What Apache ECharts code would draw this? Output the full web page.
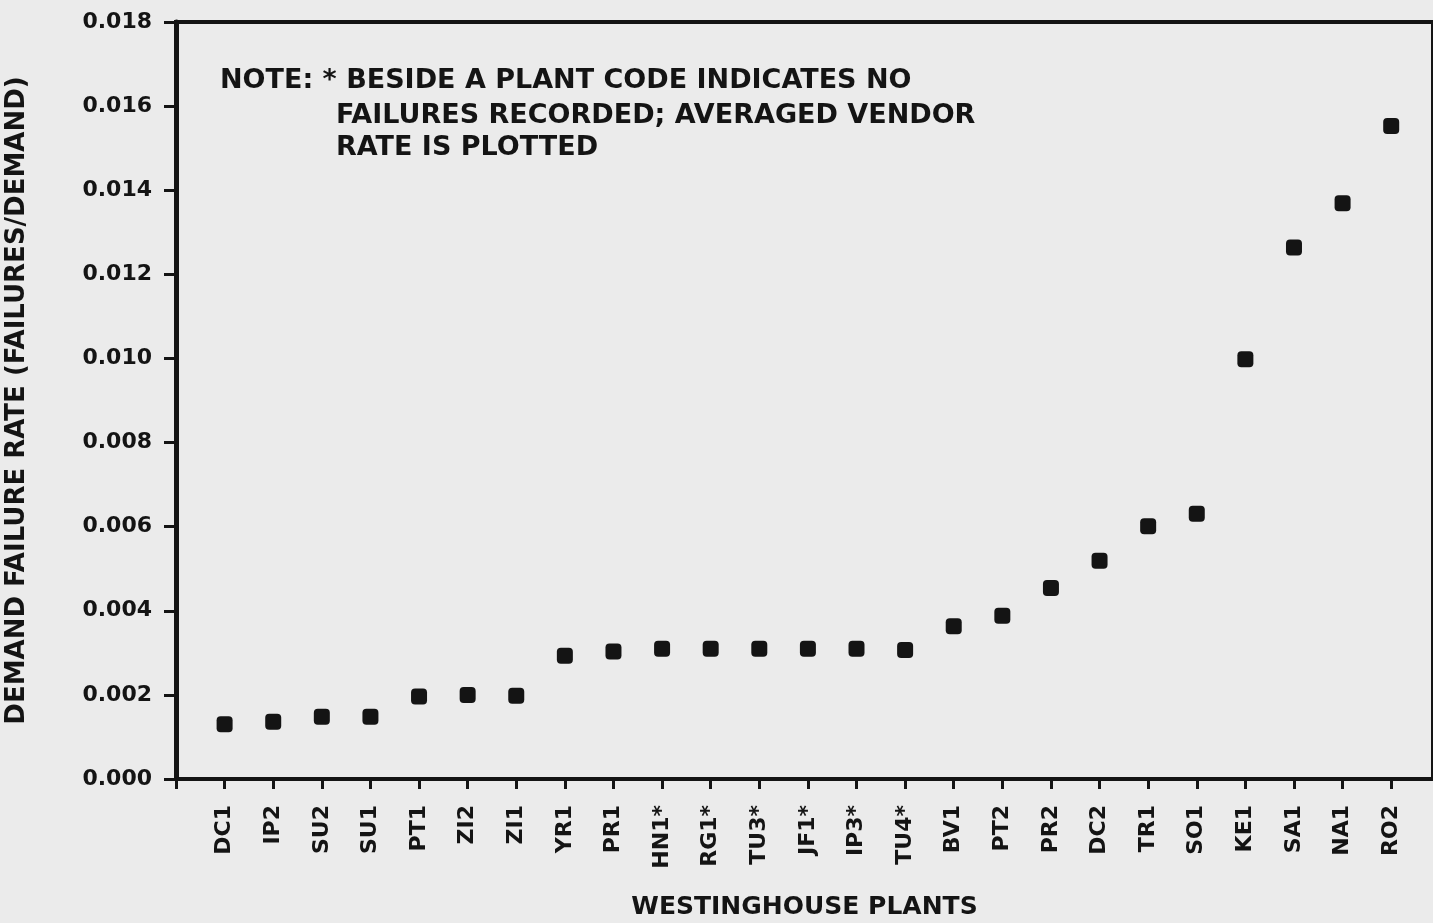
<!DOCTYPE html>
<html>
<head>
<meta charset="utf-8">
<title>Demand failure rate - Westinghouse plants</title>
<script src="https://cdn.jsdelivr.net/npm/echarts@6/dist/echarts.min.js"></script>
<style>
  html, body { margin: 0; padding: 0; background: #ebebeb; overflow: hidden; }
  #chart { width: 1433px; height: 923px; }
</style>
</head>
<body>
<div id="chart"></div>
<script>
  // plant codes, in plotted order (* = no failures recorded)
  const plants = ['DC1', 'IP2', 'SU2', 'SU1', 'PT1', 'ZI2', 'ZI1', 'YR1', 'PR1', 'HN1*', 'RG1*', 'TU3*',
    'JF1*', 'IP3*', 'TU4*', 'BV1', 'PT2', 'PR2', 'DC2', 'TR1', 'SO1', 'KE1', 'SA1', 'NA1', 'RO2']
  // demand failure rate (failures/demand)
  const rates = [0.00130, 0.00136, 0.00148, 0.00148, 0.00196, 0.00200, 0.00198, 0.00293, 0.00303, 0.00310,
    0.00310, 0.00310, 0.00310, 0.00310, 0.00307, 0.00363, 0.00388, 0.00454, 0.00519, 0.00601, 0.00631,
    0.00998, 0.01264, 0.01369, 0.01553]
  const yTicks = [0, 0.002, 0.004, 0.006, 0.008, 0.010, 0.012, 0.014, 0.016, 0.018]

  const ink = '#141414'
  const font = 'DejaVu Sans'

  const points = plants.map((p, i) => [i + 1, rates[i]])

  const myChart = echarts.init(document.getElementById('chart'))
  const option = {
    backgroundColor: '#ebebeb',
    animation: false,
    grid: {
      left: 176,
      right: 0,
      top: 22,
      bottom: 144,
      outerBoundsMode: 'none',
      containLabel: false,
      show: true,
      borderColor: ink,
      borderWidth: 4,
      backgroundColor: 'transparent'
    },
    xAxis: {
      type: 'value',
      min: 0,
      max: 25.86,
      interval: 1,
      name: 'WESTINGHOUSE PLANTS',
      nameLocation: 'middle',
      nameGap: 116,
      nameTextStyle: { color: ink, fontFamily: font, fontWeight: 'bold', fontSize: 25 },
      splitLine: { show: false },
      axisLine: { lineStyle: { color: ink, width: 4 } },
      axisTick: { length: 10, lineStyle: { color: ink, width: 3 } },
      axisLabel: {
        rotate: 90,
        margin: 26,
        color: ink,
        fontFamily: font,
        fontWeight: 'bold',
        fontSize: 22,
        showMaxLabel: false,
        formatter: v => (Number.isInteger(v) && v >= 1 && v <= plants.length) ? plants[v - 1] : ''
      }
    },
    yAxis: {
      type: 'value',
      min: yTicks[0],
      max: yTicks[yTicks.length - 1],
      interval: 0.002,
      name: 'DEMAND FAILURE RATE (FAILURES/DEMAND)',
      nameLocation: 'middle',
      nameRotate: 90,
      nameGap: 146,
      nameTextStyle: { color: ink, fontFamily: font, fontWeight: 'bold', fontSize: 26 },
      splitLine: { show: false },
      axisLine: { lineStyle: { color: ink, width: 5 } },
      axisTick: { length: 12, lineStyle: { color: ink, width: 3 } },
      axisLabel: {
        margin: 24,
        color: ink,
        fontFamily: font,
        fontWeight: 'bold',
        fontSize: 22,
        formatter: v => v.toFixed(3)
      }
    },
    graphic: [
      {
        type: 'text',
        left: 220,
        top: 67,
        style: {
          text: 'NOTE: * BESIDE A PLANT CODE INDICATES NO',
          fill: ink,
          font: 'bold 27px "DejaVu Sans"'
        }
      },
      {
        type: 'text',
        left: 336,
        top: 100,
        style: {
          text: 'FAILURES RECORDED; AVERAGED VENDOR\nRATE IS PLOTTED',
          fill: ink,
          font: 'bold 27px "DejaVu Sans"',
          lineHeight: 32
        }
      }
    ],
    series: [
      {
        type: 'scatter',
        data: points,
        symbol: 'roundRect',
        symbolSize: 16,
        itemStyle: { color: ink, opacity: 1 }
      }
    ]
  }
  myChart.setOption(option)
</script>
</body>
</html>
